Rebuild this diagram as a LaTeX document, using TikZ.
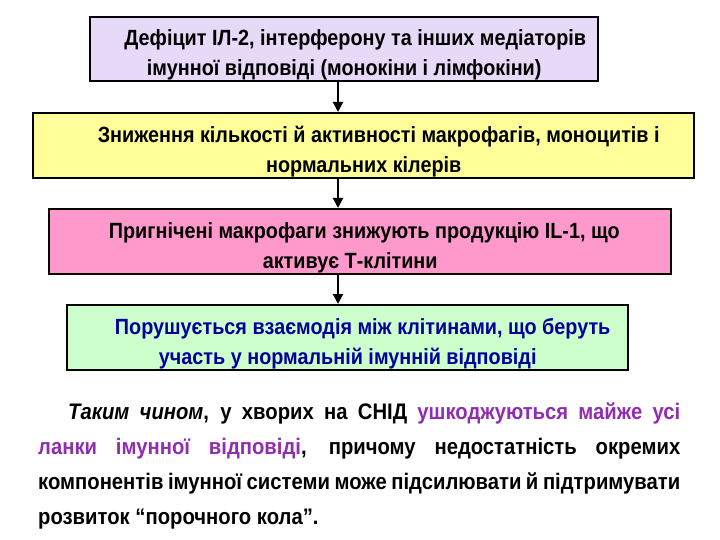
\documentclass[tikz,border=0pt]{standalone}
\usepackage{fontspec}
\setmainfont{Liberation Sans}
\newfontfamily\narrowfont[FakeStretch=0.9]{Liberation Sans}
\usetikzlibrary{arrows.meta}
\definecolor{lavender}{RGB}{231,218,248}
\definecolor{paleyellow}{RGB}{255,255,153}
\definecolor{pink}{RGB}{255,153,204}
\definecolor{palegreen}{RGB}{204,255,204}
\definecolor{navy}{RGB}{0,0,153}
\definecolor{violet}{RGB}{145,45,175}
\newcommand{\boxfont}{\narrowfont\fontsize{22}{30}\selectfont\bfseries}
\newcommand{\parfont}{\narrowfont\fontsize{22.5}{35}\selectfont\bfseries}
\newcommand{\topgap}{\rule{0pt}{28pt}}

\begin{document}
\begin{tikzpicture}[x=1pt,y=-1pt,
    box/.style={draw, line width=2.4pt, anchor=north west, inner sep=0pt,
      align=center, font=\boxfont},
    link/.style={line width=2pt, -{Triangle[width=10pt,length=10pt]}}]
    \useasboundingbox (0,0) rectangle (720,540);
    \node[box, fill=lavender, minimum width=508pt, minimum height=64pt] (defizit) at (89,16)
      {\topgap\hspace*{22pt}Дефіцит ІЛ-2, інтерферону та інших медіаторів\\
       імунної відповіді (монокіни і лімфокіни)};
    \node[box, fill=paleyellow, minimum width=661pt, minimum height=65pt] (makro) at (32,112)
      {\topgap\hspace*{30pt}Зниження кількості й активності макрофагів, моноцитів і\\
       нормальних кілерів};
    \node[box, fill=pink, minimum width=622pt, minimum height=65pt] (il) at (48,208)
      {\topgap\hspace*{8pt}Пригнічені макрофаги знижують продукцію IL-1, що\\
       активує Т-клітини\hspace*{20pt}};
    \node[box, fill=palegreen, text=navy, minimum width=561pt, minimum height=65pt] (vzaem) at (66,304)
      {\topgap\hspace*{30pt}Порушується взаємодія між клітинами, що беруть\\
       участь у нормальній імунній відповіді};
    % arrows share one vertical
    \coordinate (ax) at (338,0);
    \draw[link] (defizit.south -| ax) -- (makro.north -| ax);
    \draw[link] (makro.south -| ax) -- (il.north -| ax);
    \draw[link] (il.south -| ax) -- (vzaem.north -| ax);
    % closing paragraph
    \node[anchor=north west, inner sep=0pt, text width=642pt, align=justify, font=\parfont] (para) at (38,403)
      {\hspace*{30pt}\textit{Таким чином}, у хворих на СНІД \textcolor{violet}{ушкоджуються майже усі}\linebreak
       \textcolor{violet}{ланки імунної відповіді}, причому недостатність окремих\linebreak
       компонентів імунної системи може підсилювати й підтримувати\linebreak
       розвиток “порочного кола”.};
\end{tikzpicture}
\end{document}
